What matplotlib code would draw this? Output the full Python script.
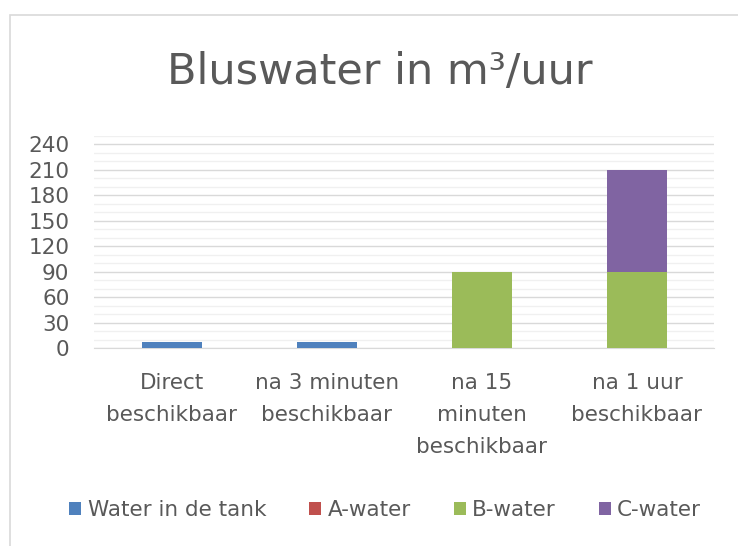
#!/usr/bin/env python3

import matplotlib.pyplot as plt
import numpy as np
from matplotlib.patches import Rectangle
from matplotlib.ticker import MultipleLocator

CATEGORIES = ["Direct\nbeschikbaar", "na 3 minuten\nbeschikbaar",
              "na 15\nminuten\nbeschikbaar", "na 1 uur\nbeschikbaar"]
SERIES = ["Water in de tank", "A-water", "B-water", "C-water"]
TANK = [7, 7, 0, 0]
A_WATER = [0, 0, 0, 0]
B_WATER = [0, 0, 90, 90]
C_WATER = [0, 0, 0, 120]
Y_TICKS = [0, 30, 60, 90, 120, 150, 180, 210, 240]

COLORS = ["#4F81BD", "#C0504D", "#9BBB59", "#8064A2"]
TEXT = "#595959"


def main():
    plt.rcParams["font.family"] = ["DejaVu Sans"]
    fig = plt.figure(figsize=(7.38, 5.46), dpi=100)
    fig.patches.append(Rectangle((0.013, -0.01), 1.0, 0.983, transform=fig.transFigure,
                                 fill=False, edgecolor="#d9d9d9", linewidth=1.2))
    ax = fig.add_axes([0.128, 0.3626, 0.840, 0.389])

    x = np.arange(len(CATEGORIES))
    bottom = np.zeros(len(CATEGORIES))
    for name, vals, col in zip(SERIES, [TANK, A_WATER, B_WATER, C_WATER], COLORS):
        vals = np.array(vals, dtype=float)
        ax.bar(x, vals, width=0.39, bottom=bottom, color=col, label=name, zorder=3)
        bottom += vals

    ax.set_xlim(-0.5, len(CATEGORIES) - 0.5)
    ax.set_ylim(0, 250)
    ax.set_yticks(Y_TICKS)
    ax.yaxis.set_minor_locator(MultipleLocator(10))
    ax.grid(axis="y", which="major", color="#d9d9d9", linewidth=1.0, zorder=0)
    ax.grid(axis="y", which="minor", color="#f0f0f0", linewidth=1.0, zorder=0)
    ax.set_xticks(x)
    ax.set_xticklabels(CATEGORIES, linespacing=1.75)
    ax.tick_params(axis="both", which="both", length=0, labelsize=15.5, colors=TEXT)
    ax.tick_params(axis="y", pad=18)
    ax.tick_params(axis="x", pad=18)
    for side in ["top", "right", "left"]:
        ax.spines[side].set_visible(False)
    ax.spines["bottom"].set_color("#d9d9d9")

    fig.text(0.515, 0.868, "Bluswater in m³/uur", ha="center", va="center",
             fontsize=31, color=TEXT)
    fig.legend(loc="center", bbox_to_anchor=(0.522, 0.066), ncol=4, frameon=False,
               fontsize=15.5, labelcolor=TEXT, handlelength=0.55, handleheight=0.55,
               handletextpad=0.3, columnspacing=2.0)

    fig.savefig("out.png", dpi=100)
    plt.close(fig)


if __name__ == "__main__":
    main()
